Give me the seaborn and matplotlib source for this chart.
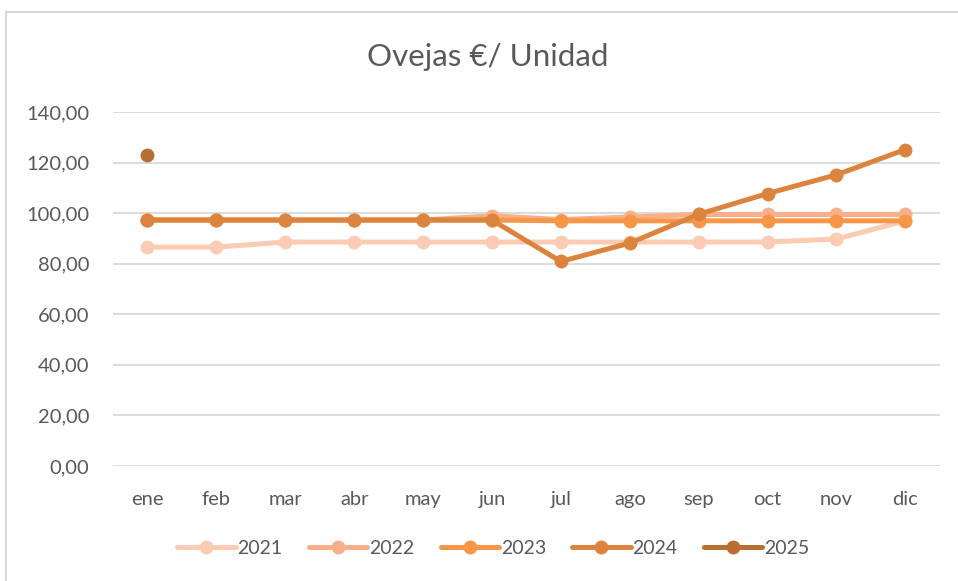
import numpy as np
import pandas as pd
import matplotlib.pyplot as plt
import seaborn as sns
from matplotlib.patches import Rectangle

# ==========================
# datos
# ==========================
meses = ["ene", "feb", "mar", "abr", "may", "jun", "jul", "ago", "sep", "oct", "nov", "dic"]
anios = ["2021", "2022", "2023", "2024", "2025"]

v2021 = [86.6, 86.6, 88.6, 88.6, 88.6, 88.6, 88.6, 88.6, 88.6, 88.6, 89.8, 97.0]
v2022 = [97.3, 97.3, 97.3, 97.3, 97.3, 99.0, 97.5, 98.5, 99.5, 99.5, 99.5, 99.5]
v2023 = [97.3, 97.3, 97.3, 97.3, 97.3, 97.3, 97.0, 97.0, 97.0, 97.0, 97.0, 97.0]
v2024 = [97.3, 97.3, 97.3, 97.3, 97.3, 97.3, 80.9, 88.2, 99.6, 107.8, 115.2, 125.2]
v2025 = [123.1] + [np.nan] * 11

colores = ["#FBCBB3", "#F9B08A", "#F79646", "#DC843D", "#B86E30"]

valores = [v2021, v2022, v2023, v2024, v2025]
df = pd.DataFrame({
    "mes": np.tile(np.arange(len(meses)), len(anios)),
    "anio": np.repeat(anios, len(meses)),
    "valor": np.concatenate(valores),
})

# ==========================
# figura
# ==========================
sns.set_style("white")
plt.rcParams["font.family"] = ["Lato", "DejaVu Sans"]

fig = plt.figure(figsize=(9.58, 5.81), dpi=100)
ax = fig.add_axes([0.118, 0.198, 0.863, 0.609])

# marco del gráfico
fig.patches.append(Rectangle((6 / 958, -0.01), 1.0, (581 - 12) / 581 + 0.01,
                             transform=fig.transFigure, fill=False,
                             edgecolor="#D9D9D9", linewidth=1.5))

for anio, col in zip(anios, colores):
    sub = df[df["anio"] == anio]
    sns.lineplot(data=sub, x="mes", y="valor", ax=ax, color=col,
                 linewidth=3.6, marker="o", markersize=10,
                 markeredgewidth=0, label=anio)

ax.set_xlim(-0.5, len(meses) - 0.5)
ax.set_ylim(0, 140)
ax.set_yticks(np.arange(0, 141, 20))
ax.set_yticklabels([f"{v:.2f}".replace(".", ",") for v in np.arange(0, 141, 20)])
ax.set_xticks(np.arange(len(meses)))
ax.set_xticklabels(meses)
ax.set_xlabel("")
ax.set_ylabel("")

ax.yaxis.grid(True, color="#D9D9D9", linewidth=1.3)
ax.set_axisbelow(True)
for s in ax.spines.values():
    s.set_visible(False)
ax.tick_params(axis="both", length=0, labelsize=14.5, labelcolor="#595959")
ax.tick_params(axis="y", pad=17)
ax.tick_params(axis="x", pad=18)

fig.text(488 / 958, 1 - 57 / 581, "Ovejas €/ Unidad", fontsize=22.5,
         color="#595959", ha="center", va="center")

ax.legend(loc="upper center", bbox_to_anchor=(0.46, -0.16), ncol=5,
          frameon=False, fontsize=14, handlelength=3.0, handletextpad=0.1,
          columnspacing=1.35, labelcolor="#595959")

plt.savefig("out.png", dpi=100)
